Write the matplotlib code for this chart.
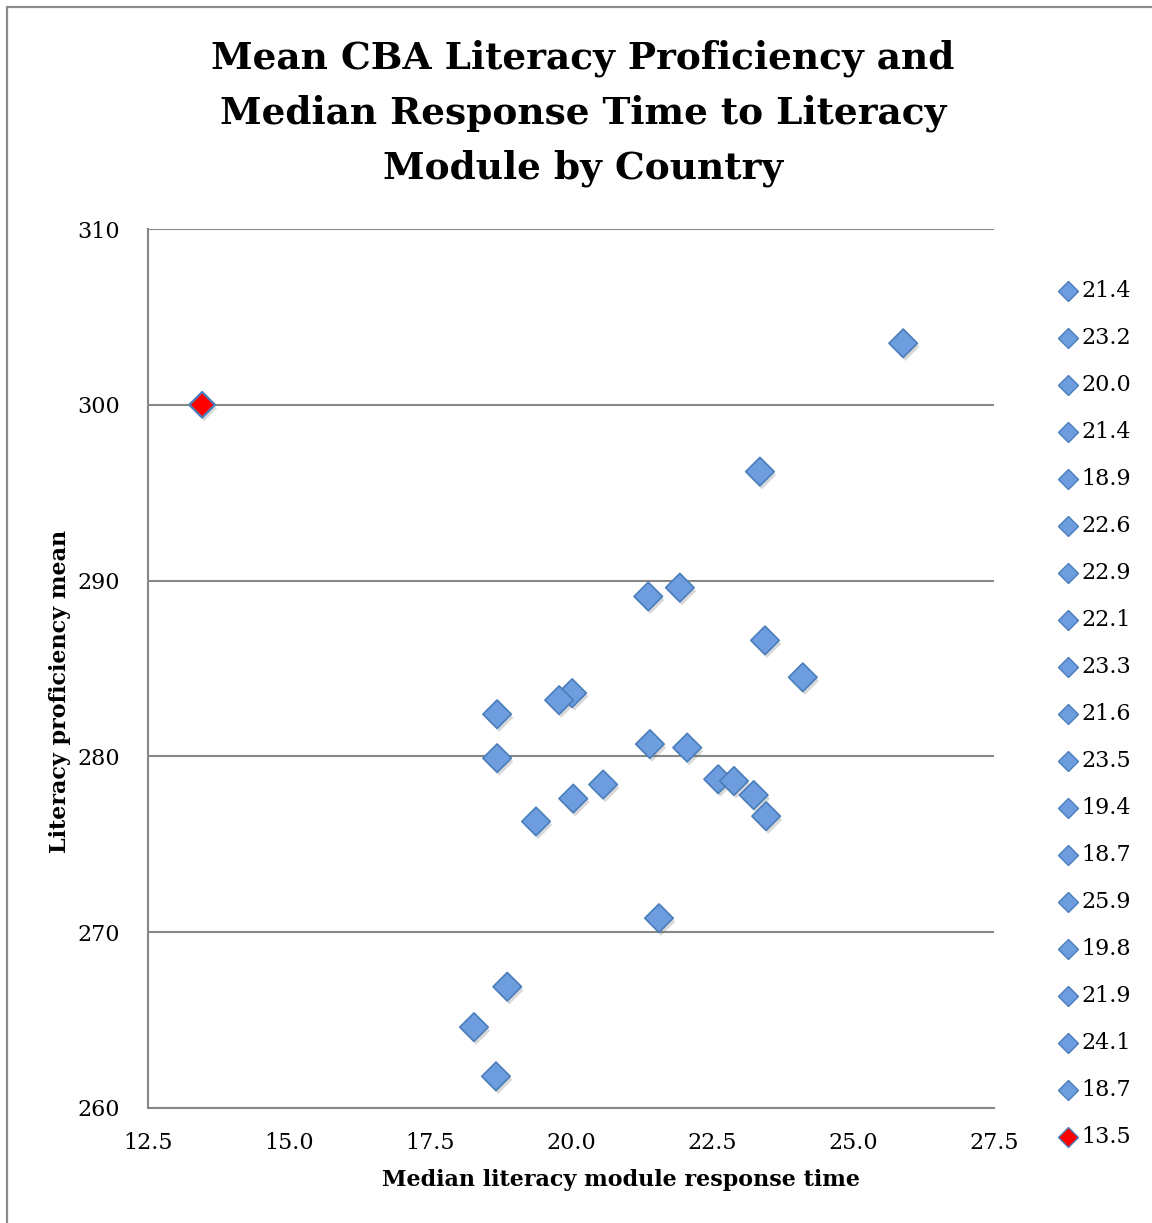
import matplotlib
matplotlib.use("Agg")
import matplotlib.pyplot as plt
from matplotlib import patheffects
from matplotlib.patches import Rectangle

# ---- data ----
resp_time = [21.37, 23.24, 20.02, 21.40, 18.87, 22.61, 22.89, 22.06, 23.35, 21.56,
             23.46, 19.38, 18.69, 25.89, 19.79, 21.93, 24.11, 18.67, 20.57, 18.28,
             20.04, 23.44, 18.69]
literacy = [289.1, 277.8, 283.6, 280.7, 266.9, 278.7, 278.6, 280.5, 296.2, 270.8,
            276.6, 276.3, 279.9, 303.5, 283.2, 289.6, 284.5, 261.8, 278.4, 264.6,
            277.6, 286.6, 282.4]
outlier_time = [13.46]
outlier_lit = [300.0]
legend_labels = ["21.4", "23.2", "20.0", "21.4", "18.9", "22.6", "22.9", "22.1", "23.3",
                 "21.6", "23.5", "19.4", "18.7", "25.9", "19.8", "21.9", "24.1", "18.7"]
outlier_label = "13.5"
x_ticks = [12.5, 15.0, 17.5, 20.0, 22.5, 25.0, 27.5]
y_ticks = [260, 270, 280, 290, 300, 310]

title_lines = ["Mean CBA Literacy Proficiency and",
               "Median Response Time to Literacy",
               "Module by Country"]

W, H = 1152, 1223
FONT = "DejaVu Serif"
BLUE = "#6E9DDF"
EDGE = "#4A7EBB"
GRID = "#878787"

fig = plt.figure(figsize=(W / 100, H / 100), dpi=100)
fig.patch.set_facecolor("white")

def fx(px):
    return px / W

def fy(py):
    return 1 - py / H

# outer border
fig.add_artist(Rectangle((fx(7), -0.1), 2, fy(7) + 0.1, transform=fig.transFigure,
                         fill=False, edgecolor="#8C8C8C", linewidth=1.6))

ax = fig.add_axes([fx(148), fy(1108), fx(994) - fx(148), fy(229) - fy(1108)])
ax.set_xlim(12.5, 27.5)
ax.set_ylim(260, 310)
ax.set_xticks(x_ticks)
ax.set_xticklabels([f"{v:.1f}" for v in x_ticks])
ax.set_yticks(y_ticks)
ax.set_yticklabels([str(v) for v in y_ticks])
ax.tick_params(axis="both", length=0, labelsize=16)
ax.tick_params(axis="x", pad=17)
ax.tick_params(axis="y", pad=20)
for lab in ax.get_xticklabels() + ax.get_yticklabels():
    lab.set_fontfamily(FONT)
ax.yaxis.grid(True, color=GRID, linewidth=1.5)
ax.set_axisbelow(True)
for s in ["top", "right"]:
    ax.spines[s].set_visible(False)
for s in ["left", "bottom"]:
    ax.spines[s].set_color(GRID)
    ax.spines[s].set_linewidth(1.5)

shadow = [patheffects.SimplePatchShadow(offset=(1.5, -2.5), alpha=0.22, shadow_rgbFace="#555555"),
          patheffects.Normal()]
ax.scatter(resp_time, literacy, marker="D", s=210, facecolor=BLUE, edgecolor=EDGE,
           linewidth=1.2, zorder=3, path_effects=shadow)
ax.scatter(outlier_time, outlier_lit, marker="D", s=170, facecolor="#FF0000", edgecolor=EDGE,
           linewidth=1.6, zorder=4, path_effects=shadow, clip_on=False)

# title
for i, line in enumerate(title_lines):
    fig.text(fx(583), fy(58 + 55 * i), line, ha="center", va="center",
             fontsize=27, fontweight="bold", fontfamily=FONT)

# axis labels
fig.text(fx(621), fy(1180), "Median literacy module response time", ha="center", va="center",
         fontsize=16, fontweight="bold", fontfamily=FONT)
fig.text(fx(60), fy(691), "Literacy proficiency mean", ha="center", va="center",
         rotation=90, fontsize=16, fontweight="bold", fontfamily=FONT)

# legend (drawn as entries in figure coordinates)
entries = [(lab, BLUE) for lab in legend_labels] + [(outlier_label, "#FF0000")]
for i, (lab, col) in enumerate(entries):
    y = fy(291 + 47 * i)
    fig.add_artist(plt.Line2D([fx(1068)], [y], marker="D", markersize=10, markerfacecolor=col,
                              markeredgecolor=EDGE, markeredgewidth=1.0, linestyle="none",
                              transform=fig.transFigure))
    fig.text(fx(1081), y, lab, ha="left", va="center", fontsize=16, fontfamily=FONT)

fig.savefig("out.png", dpi=100, facecolor="white")
